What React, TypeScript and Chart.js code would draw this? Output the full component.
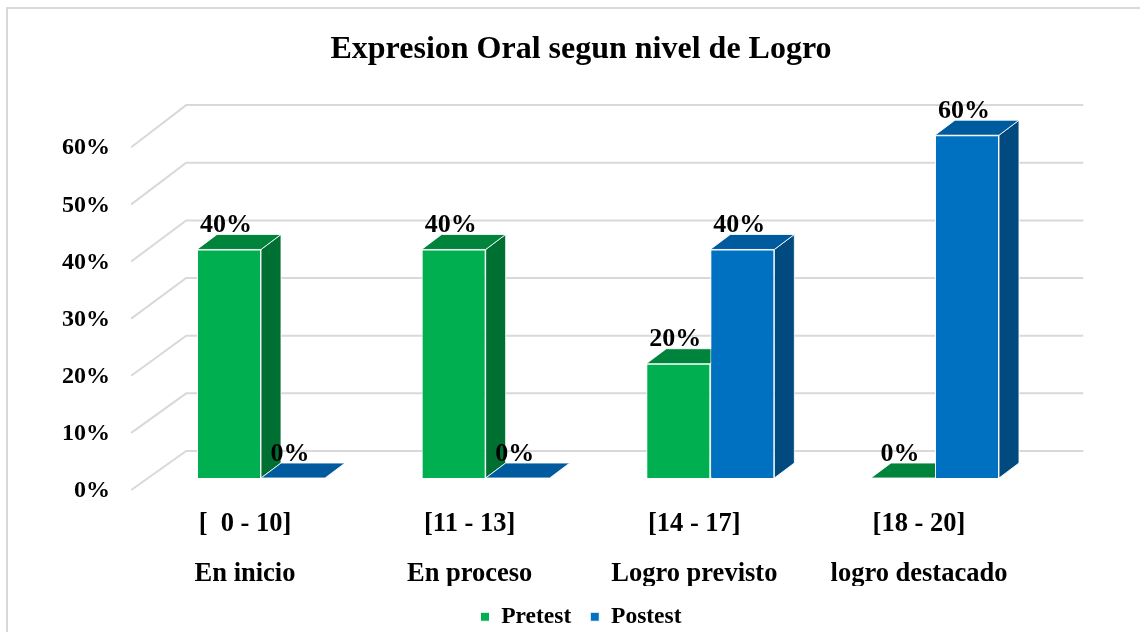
import React, { useEffect, useRef } from "react";
import { Chart, registerables } from "chart.js";

Chart.register(...registerables);

// ---- data ----
const categoryRanges = ["[  0 - 10]", "[11 - 13]", "[14 - 17]", "[18 - 20]"];
const categoryLevels = ["En inicio", "En proceso", "Logro previsto", "logro destacado"];
const seriesNames = ["Pretest", "Postest"];
const pretestValues = [40, 40, 20, 0];
const postestValues = [0, 0, 40, 60];
const yTickValues = [0, 10, 20, 30, 40, 50, 60];
const chartTitle = "Expresion Oral segun nivel de Logro";

// ---- styles ----
const FONT = "'Liberation Serif', 'Times New Roman', serif";
const frontColors = ["#00B050", "#0070C0"];
const topColors = ["#00843C", "#005A9E"];
const sideColors = ["#006F32", "#004A80"];
const GRID_COLOR = "#d9d9d9";
const DX = 20;
const DY = -15;

const threeDPlugin = {
  id: "threeD",
  beforeDraw(chart: any) {
    const ctx = chart.ctx;
    ctx.save();
    ctx.fillStyle = "#ffffff";
    ctx.fillRect(0, 0, chart.width, chart.height);
    ctx.strokeStyle = GRID_COLOR;
    ctx.lineWidth = 2;
    ctx.beginPath();
    ctx.moveTo(7, chart.height + 2);
    ctx.lineTo(7, 8);
    ctx.lineTo(chart.width + 2, 8);
    ctx.stroke();
    ctx.restore();
  },
  beforeDatasetsDraw(chart: any) {
    const ctx = chart.ctx;
    const { left, right } = chart.chartArea;
    const ys = chart.scales.y;
    const y0 = ys.getPixelForValue(0);
    ctx.save();
    ctx.strokeStyle = GRID_COLOR;
    ctx.lineWidth = 2;
    for (const v of yTickValues) {
      const yf = ys.getPixelForValue(v);
      const yb = y0 - 27 + (yf - y0) * 1.009;
      ctx.beginPath();
      ctx.moveTo(left - 17.5, yf + 12);
      ctx.lineTo(left + 37.5, yb);
      ctx.lineTo(right + 36, yb);
      ctx.stroke();
    }
    ctx.strokeStyle = "rgba(255,255,255,0.85)";
    ctx.lineWidth = 1;
    chart.data.datasets.forEach((_ds: any, di: number) => {
      const meta = chart.getDatasetMeta(di);
      meta.data.forEach((el: any) => {
        const { x, y, base, width } = el.getProps(["x", "y", "base", "width"], true);
        const l = x - width / 2;
        const r = x + width / 2;
        if (base - y > 0.5) {
          ctx.fillStyle = sideColors[di];
          ctx.beginPath();
          ctx.moveTo(r, y);
          ctx.lineTo(r + DX, y + DY);
          ctx.lineTo(r + DX, base + DY);
          ctx.lineTo(r, base);
          ctx.closePath();
          ctx.fill();
          ctx.stroke();
        }
        ctx.fillStyle = topColors[di];
        ctx.beginPath();
        ctx.moveTo(l, y);
        ctx.lineTo(l + DX, y + DY);
        ctx.lineTo(r + DX, y + DY);
        ctx.lineTo(r, y);
        ctx.closePath();
        ctx.fill();
        ctx.stroke();
      });
    });
    ctx.restore();
  },
  afterDatasetsDraw(chart: any) {
    const ctx = chart.ctx;
    ctx.save();
    ctx.fillStyle = "#000";
    ctx.font = `bold 26px ${FONT}`;
    ctx.textAlign = "center";
    ctx.textBaseline = "middle";
    chart.data.datasets.forEach((ds: any, di: number) => {
      const meta = chart.getDatasetMeta(di);
      meta.data.forEach((el: any, i: number) => {
        const { x, y } = el.getProps(["x", "y"], true);
        ctx.fillText(`${ds.data[i]}%`, x - 3, y - 24);
      });
    });
    ctx.restore();
  },
};

export default function App() {
  const ref = useRef<HTMLCanvasElement>(null);
  useEffect(() => {
    document.body.style.margin = "0";
    const canvas = ref.current!;
    const chart = new Chart(canvas, {
      type: "bar",
      data: {
        labels: categoryRanges.map((r, i) => [r, "", categoryLevels[i]]),
        datasets: [
          {
            label: seriesNames[0],
            data: pretestValues,
            backgroundColor: frontColors[0],
            borderColor: "#ffffff",
            borderWidth: 1,
          },
          {
            label: seriesNames[1],
            data: postestValues,
            backgroundColor: frontColors[1],
            borderColor: "#ffffff",
            borderWidth: 1,
          },
        ],
      },
      options: {
        responsive: false,
        animation: false,
        layout: { padding: { left: 22, right: 0, top: 0, bottom: -6.5 } },
        datasets: { bar: { categoryPercentage: 0.57, barPercentage: 1 } } as any,
        plugins: {
          title: {
            display: true,
            text: chartTitle,
            color: "#000",
            font: { family: FONT, size: 32, weight: "bold", lineHeight: 1.2 },
            padding: { top: 30.8, bottom: 66 },
          },
          legend: {
            position: "bottom",
            labels: {
              boxWidth: 9,
              boxHeight: 9,
              padding: 19,
              color: "#000",
              font: { family: FONT, size: 23.5, weight: "bold" },
            },
          },
          tooltip: { enabled: false },
        },
        scales: {
          x: {
            grid: { display: false, drawTicks: false },
            border: { display: false },
            ticks: {
              color: "#000",
              font: { family: FONT, size: 26.5, weight: "bold", lineHeight: 25 / 26.5 },
              padding: 33.5,
              labelOffset: -16,
              maxRotation: 0,
              autoSkip: false,
            },
            afterFit: (s: any) => {
              s.height = s.height - 34;
            },
          },
          y: {
            min: 0,
            max: 60,
            grid: { display: false, drawTicks: false },
            border: { display: false },
            ticks: {
              stepSize: 10,
              color: "#000",
              font: { family: FONT, size: 24, weight: "bold" },
              padding: 38.7,
              labelOffset: 13,
              callback: (v: any) => `${v}%`,
            },
            afterFit: (s: any) => {
              s.width = 126.7;
            },
          },
          yRight: {
            type: "linear",
            position: "right",
            display: true,
            grid: { display: false, drawTicks: false },
            border: { display: false },
            ticks: { display: false },
            afterFit: (s: any) => {
              s.width = 92.7;
            },
          },
        },
      } as any,
      plugins: [threeDPlugin],
    });
    return () => chart.destroy();
  }, []);
  return (
    <div style={{ position: "absolute", left: 0, top: 0, width: 1140, height: 632 }}>
      <canvas ref={ref} width={1140} height={632} style={{ display: "block" }} />
    </div>
  );
}
